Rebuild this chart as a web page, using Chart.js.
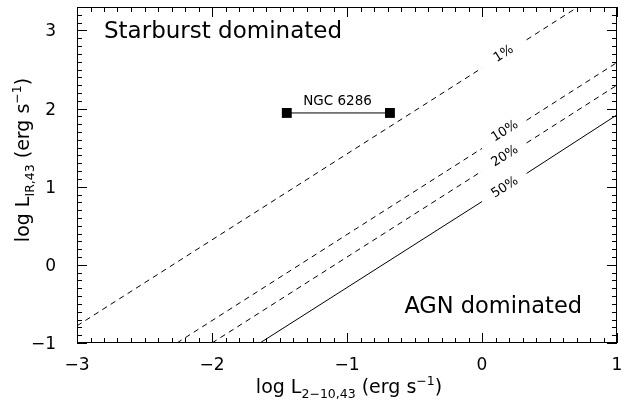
<!DOCTYPE html>
<html>
<head>
<meta charset="utf-8">
<script src="https://cdn.jsdelivr.net/npm/chart.js@4/dist/chart.umd.min.js"></script>
<style>
html,body{margin:0;padding:0;background:#fff;}
#wrap{width:624px;height:403px;}
</style>
</head>
<body>
<div id="wrap"><canvas id="c" width="624" height="403"></canvas></div>
<script>
// ---- data ----
const xTickValues = [-3, -2, -1, 0, 1];
const yTickValues = [-1, 0, 1, 2, 3];

// 1% line (dashed), null marks the gap left for the label
const pct1X = [-3.0, 0.0, null, 0.33, 0.71];
const pct1Y = [-0.78, 2.52, null, 2.88, 3.30];
// 10% line (dashed)
const pct10X = [-2.26, 0.0, null, 0.33, 1.0];
const pct10Y = [-1.0, 1.49, null, 1.85, 2.59];
// 20% line (dashed)
const pct20X = [-2.0, 0.0, null, 0.33, 1.0];
const pct20Y = [-1.0, 1.20, null, 1.56, 2.30];
// 50% line (solid)
const pct50X = [-1.645, 0.0, null, 0.33, 1.0];
const pct50Y = [-1.0, 0.81, null, 1.17, 1.92];

// NGC 6286 range
const ngcX = [-1.446, -0.682];
const ngcY = [1.944, 1.944];

// line labels
const lineLabels = ['1%', '10%', '20%', '50%'];
const lineLabelX = [0.16, 0.17, 0.17, 0.17];
const lineLabelY = [2.70, 1.71, 1.39, 0.99];
const lineSlope = 1.1;

const FONT = '"DejaVu Sans", sans-serif';

function pts(xs, ys){
  return xs.map((x,i)=> (x===null ? {x: NaN, y: null} : {x: x, y: ys[i]}));
}
function fmt(v){ return (v<0 ? '\u2212' : '') + Math.abs(v); }

const lineBase = {type:'line', showLine:true, pointRadius:0, borderColor:'#000', borderWidth:1, spanGaps:false, fill:false};

const decor = {
  id:'decor',
  afterDraw(chart){
    const ctx = chart.ctx, xs = chart.scales.x, ys = chart.scales.y, a = chart.chartArea;
    ctx.save();
    ctx.strokeStyle = '#000'; ctx.lineWidth = 1;
    // frame
    ctx.strokeRect(Math.round(a.left)+0.5, Math.round(a.top)+0.5, Math.round(a.right-a.left)-1, Math.round(a.bottom-a.top)-1);
    // ticks, inward on all sides
    ctx.beginPath();
    for (let i=-30;i<=10;i++){
      const v=i/10; const p=Math.round(xs.getPixelForValue(v))+0.5;
      const len = (i%10===0)?10:5;
      ctx.moveTo(p,a.bottom); ctx.lineTo(p,a.bottom-len);
      ctx.moveTo(p,a.top); ctx.lineTo(p,a.top+len);
    }
    for (let i=-10;i<=33;i++){
      const v=i/10; const p=Math.round(ys.getPixelForValue(v))+0.5;
      const len = (i%10===0)?10:5;
      ctx.moveTo(a.left,p); ctx.lineTo(a.left+len,p);
      ctx.moveTo(a.right,p); ctx.lineTo(a.right-len,p);
    }
    ctx.stroke();

    ctx.fillStyle = '#000';
    // tick labels
    ctx.font = '17px '+FONT; ctx.textBaseline='alphabetic';
    ctx.textAlign='center';
    xTickValues.forEach(v=>{ ctx.fillText(fmt(v), xs.getPixelForValue(v), a.bottom+27); });
    ctx.textAlign='right';
    yTickValues.forEach(v=>{ ctx.fillText(fmt(v), a.left-21, ys.getPixelForValue(v)+6); });

    // line labels rotated along the lines
    const sx = xs.getPixelForValue(1)-xs.getPixelForValue(0);
    const sy = ys.getPixelForValue(0)-ys.getPixelForValue(1);
    const ang = -Math.atan(lineSlope*sy/sx);
    ctx.font = '13px '+FONT; ctx.textAlign='center'; ctx.textBaseline='middle';
    lineLabels.forEach((t,i)=>{
      ctx.save();
      ctx.translate(xs.getPixelForValue(lineLabelX[i]), ys.getPixelForValue(lineLabelY[i]));
      ctx.rotate(ang);
      ctx.fillText(t,0,0);
      ctx.restore();
    });
    // NGC label
    ctx.font = '13.5px '+FONT;
    ctx.textBaseline='alphabetic';
    ctx.fillText('NGC 6286', xs.getPixelForValue(-1.07), ys.getPixelForValue(2.04));
    // region labels
    ctx.font = '23px '+FONT;
    ctx.textAlign='left';
    ctx.fillText('Starburst dominated', xs.getPixelForValue(-2.80), ys.getPixelForValue(2.90));
    ctx.font = '22.5px '+FONT;
    ctx.fillText('AGN dominated', xs.getPixelForValue(-0.575), ys.getPixelForValue(-0.617));

    // axis titles with sub/superscripts
    function rich(parts, cx, cy, rot){
      let w=0;
      parts.forEach(p=>{ctx.font=p.s+'px '+FONT; p.w=ctx.measureText(p.t).width; w+=p.w;});
      ctx.save(); ctx.translate(cx,cy); ctx.rotate(rot);
      ctx.textAlign='left'; ctx.textBaseline='alphabetic';
      let x=-w/2;
      parts.forEach(p=>{ctx.font=p.s+'px '+FONT; ctx.fillText(p.t,x,p.dy||0); x+=p.w;});
      ctx.restore();
    }
    rich([{t:'log L',s:19},{t:'2\u221210,43',s:12.5,dy:5},{t:' (erg s',s:19},{t:'\u22121',s:12.5,dy:-8},{t:')',s:19}], 349, 393, 0);
    rich([{t:'log L',s:19},{t:'IR,43',s:12.5,dy:5},{t:' (erg s',s:19},{t:'\u22121',s:12.5,dy:-8},{t:')',s:19}], 29, 160, -Math.PI/2);
    ctx.restore();
  }
};

new Chart(document.getElementById('c'), {
  type:'scatter',
  data:{datasets:[
    Object.assign({}, lineBase, {data:pts(pct1X,pct1Y), borderDash:[5.5,4.5]}),
    Object.assign({}, lineBase, {data:pts(pct10X,pct10Y), borderDash:[5.5,4.5]}),
    Object.assign({}, lineBase, {data:pts(pct20X,pct20Y), borderDash:[5.5,4.5]}),
    Object.assign({}, lineBase, {data:pts(pct50X,pct50Y)}),
    {type:'line', showLine:true, data:pts(ngcX,ngcY), borderColor:'#000', borderWidth:1,
     pointStyle:'rect', pointRadius:7, pointBackgroundColor:'#000', pointBorderColor:'#000', pointBorderWidth:0}
  ]},
  options:{
    responsive:false, animation:false,
    layout:{padding:{left:0,right:6,top:6,bottom:0}},
    plugins:{legend:{display:false}, tooltip:{enabled:false}},
    scales:{
      x:{type:'linear', min:-3, max:1,
         afterFit(s){ s.height = 60; },
         grid:{display:false, drawTicks:false},
         border:{display:false},
         ticks:{display:false}},
      y:{type:'linear', min:-1, max:3.3,
         afterFit(s){ s.width = 77; },
         grid:{display:false, drawTicks:false},
         border:{display:false},
         ticks:{display:false}}
    }
  },
  plugins:[decor]
});
</script>
</body>
</html>
